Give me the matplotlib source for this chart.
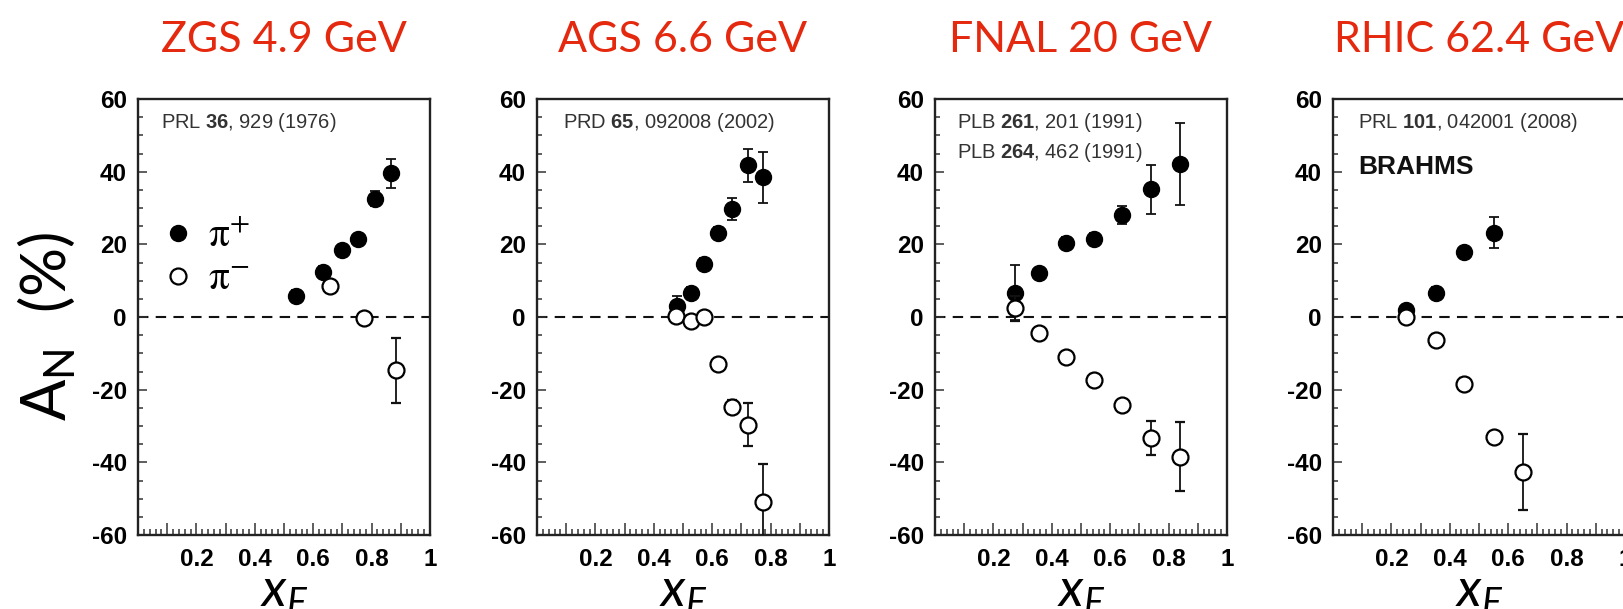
import matplotlib.pyplot as plt
from matplotlib import font_manager
from matplotlib.ticker import MultipleLocator, FuncFormatter

# --- data (x_F, A_N in %, error in %) ---
titles = ['ZGS 4.9 GeV', 'AGS 6.6 GeV', 'FNAL 20 GeV', 'RHIC 62.4 GeV']

zgs_x_pip = [0.541, 0.635, 0.698, 0.753, 0.811, 0.865]
zgs_an_pip = [5.9, 12.5, 18.4, 21.4, 32.6, 39.5]
zgs_err_pip = [1.5, 1.5, 1.5, 1.5, 2.0, 4.0]
zgs_x_pim = [0.658, 0.774, 0.883]
zgs_an_pim = [8.5, -0.3, -14.7]
zgs_err_pim = [1.5, 1.5, 9.0]

ags_x_pip = [0.478, 0.529, 0.572, 0.619, 0.669, 0.722, 0.773]
ags_an_pip = [2.9, 6.7, 14.7, 23.2, 29.8, 41.7, 38.4]
ags_err_pip = [3.0, 1.5, 1.5, 1.5, 3.0, 4.6, 7.0]
ags_x_pim = [0.475, 0.527, 0.572, 0.619, 0.669, 0.722, 0.773]
ags_an_pim = [0.3, -1.1, 0.0, -12.9, -24.8, -29.6, -50.9]
ags_err_pim = [1.5, 1.5, 1.5, 1.5, 2.0, 6.0, 10.5]

fnal_x_pip = [0.274, 0.355, 0.449, 0.546, 0.642, 0.740, 0.839]
fnal_an_pip = [6.7, 12.0, 20.5, 21.6, 28.0, 35.1, 42.1]
fnal_err_pip = [7.5, 1.5, 1.5, 1.5, 2.5, 6.7, 11.2]
fnal_x_pim = [0.274, 0.355, 0.449, 0.546, 0.642, 0.740, 0.839]
fnal_an_pim = [2.4, -4.5, -11.1, -17.3, -24.3, -33.3, -38.4]
fnal_err_pim = [3.5, 1.5, 1.5, 1.5, 1.5, 4.8, 9.4]

rhic_x_pip = [0.251, 0.352, 0.449, 0.551]
rhic_an_pip = [1.9, 6.7, 17.9, 23.2]
rhic_err_pip = [1.5, 1.5, 1.5, 4.3]
rhic_x_pim = [0.249, 0.352, 0.449, 0.551, 0.651]
rhic_an_pim = [0.0, -6.3, -18.4, -33.1, -42.7]
rhic_err_pim = [1.5, 1.5, 1.5, 1.5, 10.4]

# citations: (plain, bold, plain) pieces per line
refs = [
    [('PRL', '36', ', 929 (1976)')],
    [('PRD', '65', ', 092008 (2002)')],
    [('PLB', '261', ', 201 (1991)'), ('PLB', '264', ', 462 (1991)')],
    [('PRL', '101', ', 042001 (2008)')],
]
x_tick_labels = ['0.2', '0.4', '0.6', '0.8', '1']

# --- fonts ---
names = {f.name for f in font_manager.fontManager.ttflist}
narrow = 'Liberation Sans Narrow' if 'Liberation Sans Narrow' in names else 'Liberation Sans'
plt.rcParams['axes.unicode_minus'] = False
plt.rcParams['mathtext.fontset'] = 'custom'
plt.rcParams['mathtext.rm'] = narrow
plt.rcParams['mathtext.bf'] = narrow + ':bold'
plt.rcParams['mathtext.sf'] = 'Lato'
plt.rcParams['mathtext.it'] = 'Lato:italic'

red = '#e4290f'
ink = '#111111'

fig = plt.figure(figsize=(16.24, 6.09), dpi=100)
W, H = 1624, 609
lefts = [138, 537, 935, 1333]
ax_w, ax_top, ax_bot = 292, 99, 535

panels = [
    (zgs_x_pip, zgs_an_pip, zgs_err_pip, zgs_x_pim, zgs_an_pim, zgs_err_pim),
    (ags_x_pip, ags_an_pip, ags_err_pip, ags_x_pim, ags_an_pim, ags_err_pim),
    (fnal_x_pip, fnal_an_pip, fnal_err_pip, fnal_x_pim, fnal_an_pim, fnal_err_pim),
    (rhic_x_pip, rhic_an_pip, rhic_err_pip, rhic_x_pim, rhic_an_pim, rhic_err_pim),
]
ref_x = [0.079, 0.088, 0.074, 0.086]


def tick_fmt(v, pos):
    for lab in x_tick_labels:
        if abs(float(lab) - v) < 1e-6:
            return lab
    return ''


def mt(s):
    # plain text -> mathtext-safe roman piece
    return s.replace(' ', r'\ ').replace(',', '{,}')


for i, (xp, yp, ep, xm, ym, em) in enumerate(panels):
    ax = fig.add_axes([lefts[i] / W, (H - ax_bot) / H, ax_w / W, (ax_bot - ax_top) / H])
    ax.set_xlim(0, 1)
    ax.set_ylim(-60, 60)
    ax.axhline(0, color=ink, lw=1.5, ls=(0, (5, 3.5)), zorder=1)

    kw = dict(fmt='o', ms=11.5, ecolor=ink, elinewidth=1.3, capsize=3.5, capthick=1.3)
    hp = ax.errorbar(xp, yp, yerr=ep, mfc='black', mec='black', zorder=3, **kw)
    hm = ax.errorbar(xm, ym, yerr=em, mfc='white', mec='black', mew=1.6, zorder=4, **kw)

    for s in ax.spines.values():
        s.set_linewidth(1.7)
        s.set_color('#222222')
    ax.yaxis.set_major_locator(MultipleLocator(20))
    ax.yaxis.set_minor_locator(MultipleLocator(5))
    ax.xaxis.set_major_locator(MultipleLocator(0.1))
    ax.xaxis.set_minor_locator(MultipleLocator(0.02))
    ax.xaxis.set_major_formatter(FuncFormatter(tick_fmt))
    ax.tick_params(which='both', direction='in', top=False, right=False, width=1.1, color='#333333')
    ax.tick_params(axis='y', which='major', length=6.5, pad=8)
    ax.tick_params(axis='y', which='minor', length=3.6)
    ax.tick_params(axis='x', which='major', length=8.5, pad=9)
    ax.tick_params(axis='x', which='minor', length=4.3)
    for lab in ax.get_xticklabels() + ax.get_yticklabels():
        lab.set_fontfamily(narrow)
        lab.set_fontweight('bold')
        lab.set_fontsize(17.5)

    ax.set_title(titles[i], color=red, fontfamily='Lato', fontsize=31, pad=34)

    for j, (a, b, c) in enumerate(refs[i]):
        ax.text(ref_x[i], 0.947 - 0.069 * j,
                r'$\mathrm{%s\ }\mathbf{%s}\mathrm{%s}$' % (mt(a), mt(b), mt(c)),
                transform=ax.transAxes, fontsize=14.5, color='#333333', va='center', ha='left')

    ax.set_xlabel(r'$\mathit{x}_{\mathit{F}}$', fontsize=38, va='baseline')
    ax.xaxis.set_label_coords(0.5, -0.165)

    if i == 0:
        leg = ax.legend([hp[0], hm[0]], [r'$\mathrm{\pi}^{+}$', r'$\mathrm{\pi}^{-}$'],
                        loc='center left', bbox_to_anchor=(0.077, 0.638), frameon=False,
                        fontsize=30, handlelength=0.85, handletextpad=0.3,
                        labelspacing=0.02, borderpad=0, borderaxespad=0)
        for t in leg.get_texts():
            t.set_math_fontfamily('stix')
        ax.set_ylabel(r'$\mathsf{A}_{\mathsf{N}}\mathsf{\ \ (\%)}$', fontsize=44,
                      va='center', ha='center', rotation_mode='anchor')
        ax.yaxis.set_label_coords(-0.308, 0.479)
    if i == 3:
        ax.text(0.086, 0.844, 'BRAHMS', transform=ax.transAxes, fontfamily='Liberation Sans',
                fontweight='bold', fontsize=19, color=ink, va='center', ha='left')

fig.savefig('out.png', dpi=100)
